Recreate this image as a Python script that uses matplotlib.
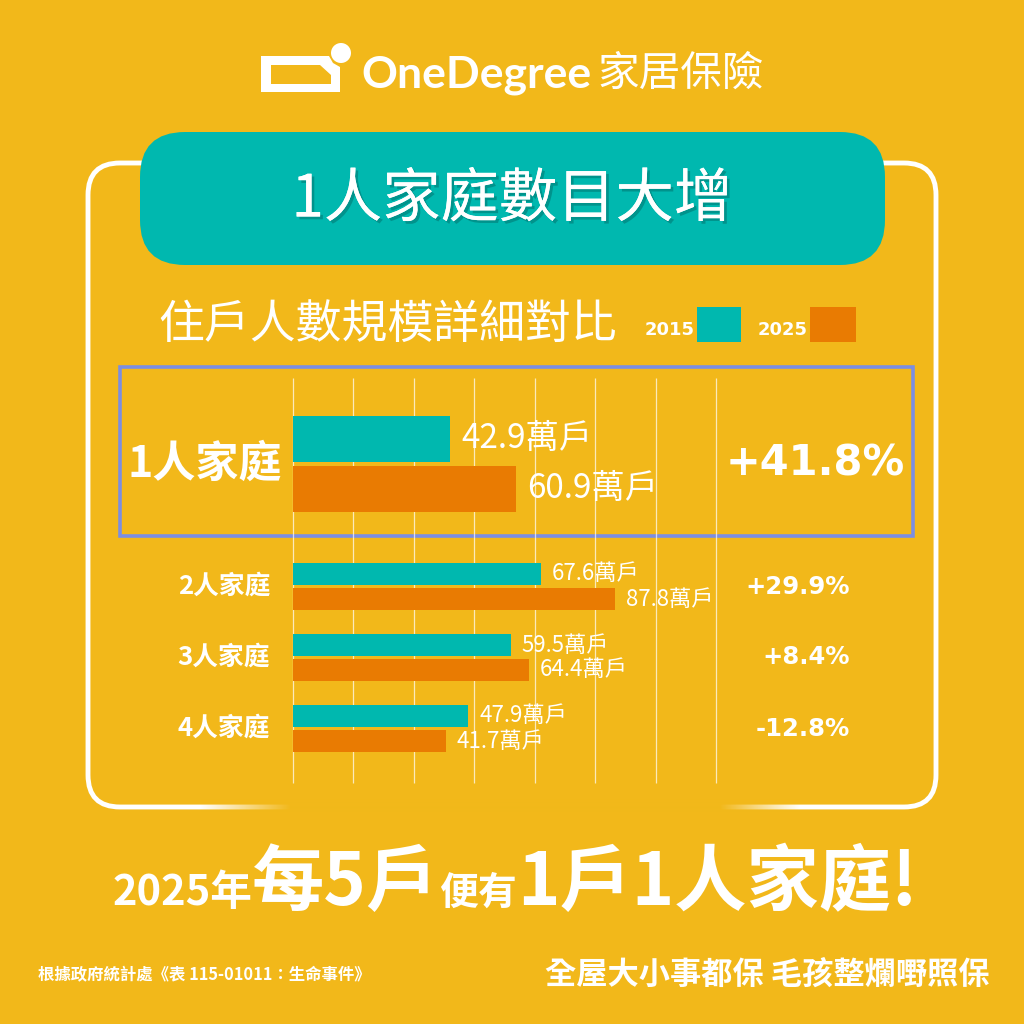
import matplotlib.pyplot as plt
import matplotlib.patheffects as pe
import numpy as np
from matplotlib.colors import to_rgb
from matplotlib.patches import FancyBboxPatch, Rectangle, Polygon, Circle

plt.rcParams['font.family'] = ['Noto Sans CJK TC', 'DejaVu Sans']

# data
households = ['1人家庭', '2人家庭', '3人家庭', '4人家庭']
hh_2015 = [42.9, 67.6, 59.5, 47.9]
hh_2025 = [60.9, 87.8, 64.4, 41.7]
changes = ['+41.8%', '+29.9%', '+8.4%', '-12.8%']
years = ['2015', '2025']
unit = '萬戶'

BG = '#F2B81A'
TEAL = '#00B8AF'
ORANGE = '#E97B02'
BLUE = '#7B8EE2'
W = 'white'

fig = plt.figure(figsize=(10.24, 10.24), dpi=100)
fig.patch.set_facecolor(BG)
bg = fig.add_axes([0, 0, 1, 1])
bg.axis('off')

# logo
bg.add_patch(Polygon([(261, 56), (329, 56), (333, 63), (340, 67), (340, 92), (261, 92)], fc=W, ec='none'))
bg.add_patch(Polygon([(271, 65), (320, 65), (331, 75), (331, 84), (271, 84)], fc=BG, ec='none'))
bg.add_patch(Circle((341, 53), 10, fc=W, ec='none'))
bg.text(361, 75, 'OneDegree', family='Lato', weight='bold', fontsize=32, color=W, va='center')
bg.text(597, 74, '家居保險', fontsize=30, weight='medium', color=W, va='center')

# white frame with fading bottom edge
bg.add_patch(FancyBboxPatch((88, 163), 848, 644, boxstyle='round,pad=0,rounding_size=32',
                            fc='none', ec=W, lw=3.5, zorder=2))
xs = np.arange(80, 945)
ramp = np.interp(xs, [80, 200, 290, 720, 800, 945], [0, 0, 1, 1, 0, 0])
img = np.zeros((1, len(xs), 4))
img[..., :3] = to_rgb(BG)
img[..., 3] = ramp
bg.imshow(img, extent=(80, 945, 814, 799), aspect='auto', interpolation='bilinear', zorder=3)

# title box
bg.add_patch(FancyBboxPatch((140, 132), 745, 133, boxstyle='round,pad=0,rounding_size=45',
                            fc=TEAL, ec='none', zorder=4))
bg.text(512, 200, '1人家庭數目大增', fontsize=42, color=W, ha='center', va='center', zorder=5,
        path_effects=[pe.withSimplePatchShadow(offset=(2, -2), shadow_rgbFace='#006f6a', alpha=0.5),
                      pe.Normal()])

# subtitle + legend
bg.text(158, 325, '住戶人數規模詳細對比', fontsize=33, color=W, va='center')
bg.add_patch(Rectangle((697, 307), 44, 35, fc=TEAL, ec='none'))
bg.add_patch(Rectangle((810, 307), 46, 35, fc=ORANGE, ec='none'))
bg.text(695, 335, years[0], family='DejaVu Sans', weight='bold', fontsize=13, color=W, ha='right', va='baseline')
bg.text(808, 335, years[1], family='DejaVu Sans', weight='bold', fontsize=13, color=W, ha='right', va='baseline')

# highlight box for 1-person row
bg.add_patch(Rectangle((120, 367), 793, 169, fc='none', ec=BLUE, lw=2.6, zorder=3))

# rows
row_c = np.array([463.5, 586.5, 657.5, 728.5])
bar_h = np.array([46, 22, 22, 22])
gap = np.array([4, 3, 3, 3])
y15 = row_c - gap / 2 - bar_h / 2
y25 = row_c + gap / 2 + bar_h / 2

ax = fig.add_axes([293 / 1024, 1 - 783 / 1024, (716 - 293) / 1024, (783 - 378) / 1024])
ax.set_xlim(0, 115.5)
ax.set_ylim(783, 378)
ax.axis('off')
ax.vlines(np.arange(0, 116, 16.5), 378, 783, color=W, lw=0.9, alpha=0.7, zorder=0, clip_on=False)
ax.barh(y15, hh_2015, height=bar_h, color=TEAL, zorder=2)
ax.barh(y25, hh_2025, height=bar_h, color=ORANGE, zorder=2)

for i in range(len(households)):
    big = i == 0
    fs = 24 if big else 16
    ax.text(hh_2015[i] + 3, y15[i], f'{hh_2015[i]}{unit}', fontsize=fs, color=W, va='center', clip_on=False)
    ax.text(hh_2025[i] + 3, y25[i], f'{hh_2025[i]}{unit}', fontsize=fs, color=W, va='center', clip_on=False)
    bg.text(282 if big else 270, row_c[i], households[i], fontsize=31 if big else 18.5,
            weight='bold', color=W, ha='right', va='center')
    bg.text(905 if big else 850, row_c[i], changes[i], family='DejaVu Sans', weight='bold',
            fontsize=30 if big else 17.5, color=W, ha='right', va='center')

# bottom headline
pieces = [('2025年', 30), ('每5戶', 52), ('便有', 28), ('1戶1人家庭!', 52)]
r = fig.canvas.get_renderer()
texts = [bg.text(0, 905, s, fontsize=f, weight='bold', color=W, va='baseline') for s, f in pieces]
widths = [t.get_window_extent(r).width for t in texts]
x = 515 - sum(widths) / 2
for t, w in zip(texts, widths):
    t.set_x(x)
    x += w

bg.text(38, 975, '根據政府統計處《表 115-01011：生命事件》', fontsize=11.8, weight='bold', color=W, va='center')
bg.text(990, 975, '全屋大小事都保 毛孩整爛嘢照保', fontsize=22.5, weight='bold', color=W, ha='right', va='center')

bg.set_xlim(0, 1024)
bg.set_ylim(1024, 0)
fig.savefig('out.png', dpi=100, facecolor=BG)
